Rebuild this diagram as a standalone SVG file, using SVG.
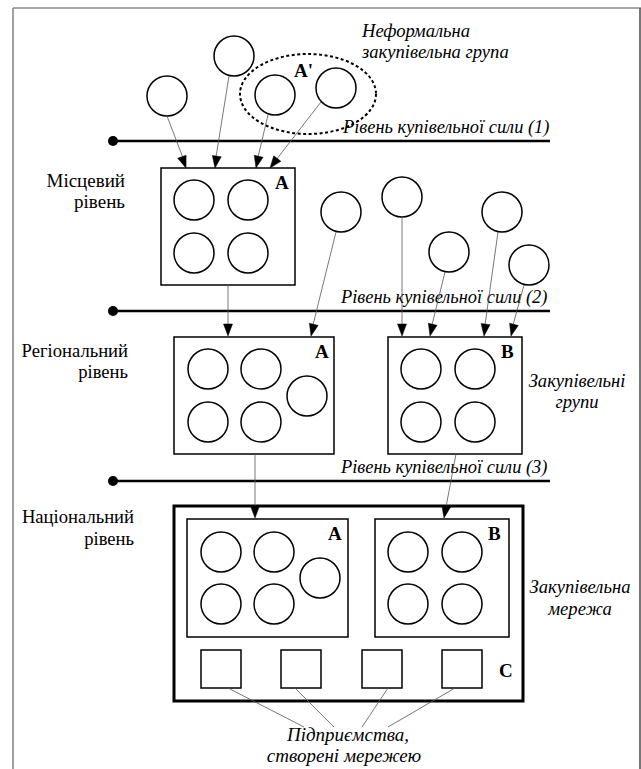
<svg xmlns="http://www.w3.org/2000/svg" width="641" height="769" viewBox="0 0 641 769">
<defs>
<style>
.frame{stroke:#8a8a8a;stroke-width:1.6;fill:none}
.frameR{stroke:#555;stroke-width:1.6;fill:none}
.c{fill:#fff;stroke:#000;stroke-width:1.5}
.box{fill:#fff;stroke:#000;stroke-width:1.5}
.outer{fill:#fff;stroke:#000;stroke-width:3}
.lvl{stroke:#000;stroke-width:2.5}
.t{font-family:"Liberation Serif","Times New Roman",serif;font-size:18.6px;fill:#000}
.ti{font-family:"Liberation Serif","Times New Roman",serif;font-size:18.6px;font-style:italic;fill:#000}
.tl{font-family:"Liberation Serif","Times New Roman",serif;font-size:18.4px;font-style:italic;fill:#000}
.tb{font-family:"Liberation Serif","Times New Roman",serif;font-size:19px;font-weight:bold;fill:#000}
.ah{fill:#000;stroke:#000;stroke-width:0.5;stroke-linejoin:miter}
</style>
</defs>

<g id="frame">
<line class="frame" x1="13" y1="8" x2="641" y2="8"/>
<line class="frame" x1="13" y1="8" x2="13" y2="769"/>
<line class="frameR" x1="640" y1="8" x2="640" y2="769"/>
</g>

<g id="levels">
<line class="lvl" x1="113" y1="141" x2="550" y2="141"/><circle cx="113" cy="141" r="5"/>
<line class="lvl" x1="113" y1="311" x2="550" y2="311"/><circle cx="113" cy="311" r="5"/>
<line class="lvl" x1="113" y1="481" x2="550" y2="481"/><circle cx="113" cy="481" r="5"/>
</g>

<g id="informal-group">
<ellipse cx="308" cy="94" rx="68" ry="40" fill="none" stroke="#000" stroke-width="2" stroke-dasharray="3,2.5"/>
<text class="tb" x="294" y="77">A'</text>
<text class="ti" x="362" y="37">Неформальна</text>
<text class="ti" x="362" y="58">закупівельна група</text>
</g>

<g id="level-labels">
<text class="tl" x="343" y="133">Рівень купівельної сили (1)</text>
<text class="tl" x="341" y="303">Рівень купівельної сили (2)</text>
<text class="tl" x="341" y="473">Рівень купівельної сили (3)</text>
</g>

<g id="free-circles">
<circle class="c" cx="167" cy="96" r="20"/>
<circle class="c" cx="234" cy="56" r="20"/>
<circle class="c" cx="275" cy="95" r="20"/>
<circle class="c" cx="336" cy="88" r="20"/>
<circle class="c" cx="341" cy="212" r="20"/>
<circle class="c" cx="402" cy="197" r="20"/>
<circle class="c" cx="449" cy="252" r="20"/>
<circle class="c" cx="502" cy="212" r="20"/>
<circle class="c" cx="529" cy="265" r="20"/>
</g>

<g id="local-A">
<rect class="box" x="161" y="168" width="134" height="117"/>
<circle class="c" cx="194" cy="200" r="20"/>
<circle class="c" cx="248" cy="200" r="20"/>
<circle class="c" cx="194" cy="253" r="20"/>
<circle class="c" cx="248" cy="253" r="20"/>
<text class="tb" x="275" y="189">A</text>
</g>

<g id="regional-A">
<rect class="box" x="174" y="337" width="160" height="117"/>
<circle class="c" cx="208" cy="369" r="20"/>
<circle class="c" cx="261" cy="369" r="20"/>
<circle class="c" cx="208" cy="422" r="20"/>
<circle class="c" cx="261" cy="422" r="20"/>
<circle class="c" cx="307" cy="396" r="20"/>
<text class="tb" x="315" y="358">A</text>
</g>

<g id="regional-B">
<rect class="box" x="388" y="337" width="134" height="117"/>
<circle class="c" cx="421" cy="369" r="20"/>
<circle class="c" cx="475" cy="369" r="20"/>
<circle class="c" cx="421" cy="422" r="20"/>
<circle class="c" cx="475" cy="422" r="20"/>
<text class="tb" x="501" y="358">B</text>
</g>

<g id="national">
<rect class="outer" x="174" y="506" width="349" height="195"/>
<g id="national-A">
<rect class="box" x="187" y="519" width="161" height="118"/>
<circle class="c" cx="221" cy="552" r="20"/>
<circle class="c" cx="274" cy="552" r="20"/>
<circle class="c" cx="221" cy="604" r="20"/>
<circle class="c" cx="274" cy="604" r="20"/>
<circle class="c" cx="320" cy="578" r="20"/>
<text class="tb" x="328" y="540">A</text>
</g>
<g id="national-B">
<rect class="box" x="375" y="519" width="134" height="118"/>
<circle class="c" cx="408" cy="552" r="20"/>
<circle class="c" cx="462" cy="552" r="20"/>
<circle class="c" cx="408" cy="604" r="20"/>
<circle class="c" cx="462" cy="604" r="20"/>
<text class="tb" x="488" y="540">B</text>
</g>
<g id="national-C">
<rect class="box" x="201" y="650" width="40" height="38"/>
<rect class="box" x="281" y="650" width="40" height="38"/>
<rect class="box" x="362" y="650" width="40" height="38"/>
<rect class="box" x="442" y="650" width="40" height="38"/>
<text class="tb" x="499" y="677">C</text>
</g>
</g>

<g id="connectors">
<g stroke="#555" stroke-width="0.8" fill="none">
<line x1="167" y1="116" x2="183" y2="158"/>
<line x1="229" y1="76" x2="216" y2="157"/>
<line x1="268" y1="115" x2="258" y2="157"/>
<line x1="321" y1="102" x2="276" y2="160"/>
<line x1="228" y1="285" x2="228" y2="325"/>
<line x1="336" y1="232" x2="313" y2="325"/>
<line x1="402" y1="217" x2="402" y2="325"/>
<line x1="445" y1="272" x2="432" y2="325"/>
<line x1="498" y1="232" x2="485" y2="325"/>
<line x1="524" y1="285" x2="513" y2="325"/>
<line x1="255" y1="454" x2="255" y2="507"/>
<line x1="456" y1="454" x2="446" y2="507"/>
<line x1="228" y1="688" x2="304" y2="727"/>
<line x1="295" y1="688" x2="334" y2="727"/>
<line x1="388" y1="688" x2="362" y2="727"/>
<line x1="455" y1="688" x2="388" y2="727"/>
</g>
<polygon class="ah" points="186,168 177.65,158.27 186.11,155.19"/>
<polygon class="ah" points="215,168 212.35,155.45 221.25,156.81"/>
<polygon class="ah" points="256,168 254.26,155.31 263.04,157.29"/>
<polygon class="ah" points="270,168 273.77,155.76 280.89,161.26"/>
<polygon class="ah" points="228,336 223.5,324 232.5,324"/>
<polygon class="ah" points="311,336 309.44,323.29 318.18,325.39"/>
<polygon class="ah" points="402,336 397.5,324 406.5,324"/>
<polygon class="ah" points="430,336 428.36,323.28 437.12,325.34"/>
<polygon class="ah" points="484,336 481.14,323.51 490.06,324.71"/>
<polygon class="ah" points="511,336 509.60,323.26 518.32,325.48"/>
<polygon class="ah" points="255,518 250.5,506 259.5,506"/>
<polygon class="ah" points="444,518 441.79,505.37 450.63,507.03"/>
</g>

<g id="side-labels">
<text class="t" x="125" y="187" text-anchor="end" style="font-size:19px">Місцевий</text>
<text class="t" x="125" y="208" text-anchor="end" style="font-size:19px">рівень</text>
<text class="t" x="128" y="357" text-anchor="end">Регіональний</text>
<text class="t" x="128" y="378" text-anchor="end">рівень</text>
<text class="t" x="134" y="523" text-anchor="end">Національний</text>
<text class="t" x="134" y="545" text-anchor="end">рівень</text>
<text class="ti" x="577" y="387" text-anchor="middle">Закупівельні</text>
<text class="ti" x="577" y="408" text-anchor="middle">групи</text>
<text class="ti" x="580" y="593" text-anchor="middle">Закупівельна</text>
<text class="ti" x="580" y="615" text-anchor="middle">мережа</text>
<text class="ti" x="348" y="741" text-anchor="middle" style="font-size:19px">Підприємства,</text>
<text class="ti" x="344" y="762" text-anchor="middle" style="font-size:19px">створені мережею</text>
</g>
</svg>
